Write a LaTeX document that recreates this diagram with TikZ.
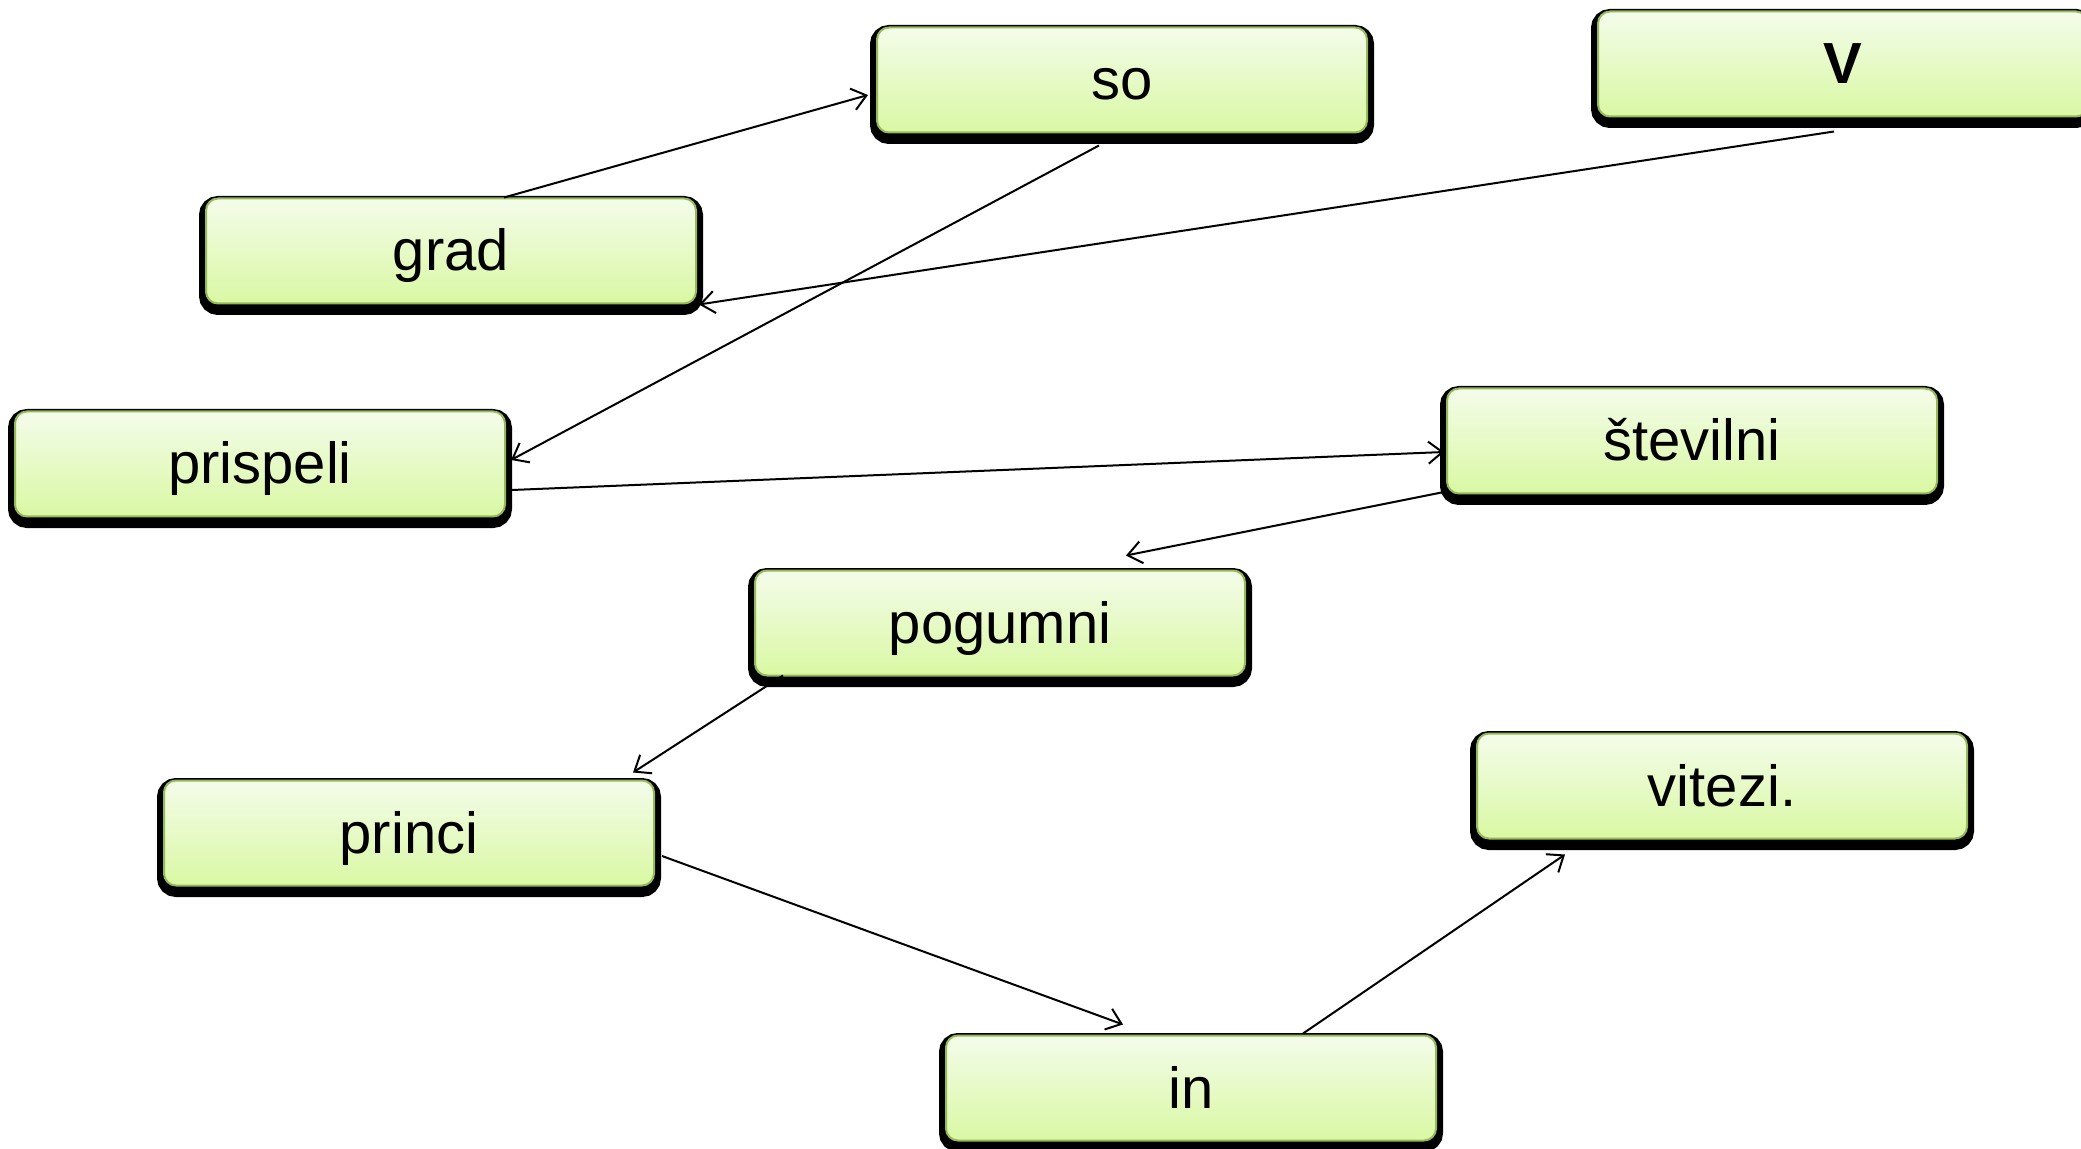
\documentclass[tikz,border=0pt]{standalone}
\usepackage{fontspec}
\setmainfont{Liberation Sans}
\usetikzlibrary{positioning,calc,arrows.meta,shadows}

\definecolor{boxtop}{RGB}{244,252,234}
\definecolor{boxbot}{RGB}{217,248,163}
\definecolor{boxline}{RGB}{150,185,90}

\begin{document}
\begin{tikzpicture}[x=0.5pt, y=-0.5pt,
    >={Straight Barb[length=7pt,width=11pt]},
    word/.style={rectangle, rounded corners=6pt, draw=boxline, line width=1pt,
      top color=boxtop, bottom color=boxbot,
      minimum width=245pt, minimum height=52.5pt, inner sep=0pt,
      text height=20pt, text depth=0pt,
      font=\fontsize{29}{34}\selectfont,
      general shadow={fill=black, draw=black, line width=7pt, shadow yshift=-2.25pt}},
    link/.style={->, line width=1pt}]
  \useasboundingbox (0,0) rectangle (2081,1149);
      \node (so) [word] at (1122,80) {so};
      \node (V) [word] at (1843,64) {\textbf{V}};
      \node (grad) [word] at (451,251) {grad};
      \node (prispeli) [word] at (260,464) {prispeli};
      \node (stevilni) [word] at (1692,441) {številni};
      \node (pogumni) [word] at (1000,623) {pogumni};
      \node (princi) [word] at (409,833) {princi};
      \node (vitezi) [word] at (1722,786) {vitezi.};
      \node (in) [word] at (1191,1088) {in};
      \path[link]
        ($(grad.north)+(53,0)$) edge ($(so.west)+(-8,15)$)
        ($(so.south)+(-23,12)$) edge ($(prispeli.east)+(5,-4)$)
        ($(V.south)+(-9,14)$) edge ($(grad.south east)+(2,0)$)
        ($(prispeli.east)+(6,26)$) edge ($(stevilni.west)+(-2,11)$)
        ($(stevilni.west)+(-2,51)$) edge ($(pogumni.north)+(126,-14)$)
        ($(pogumni.south)+(-217,-1)$) edge ($(princi.north)+(224,-7)$)
        ($(princi.east)+(7,23)$) edge ($(in.north)+(-68,-10)$)
        ($(in.north)+(112,-1)$) edge ($(vitezi.south)+(-157,15)$);
\end{tikzpicture}
\end{document}
